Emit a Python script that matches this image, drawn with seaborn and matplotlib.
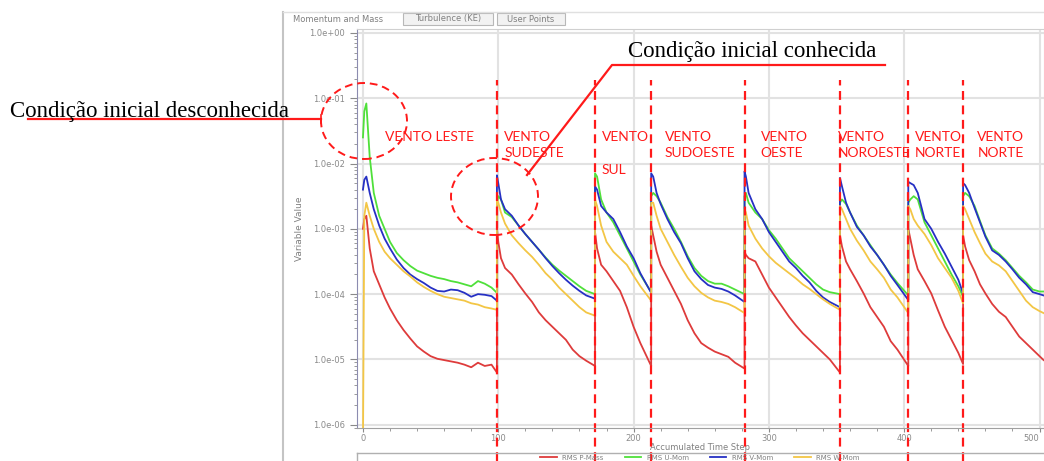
import numpy as np
import pandas as pd
import matplotlib.pyplot as plt
import seaborn as sns
from matplotlib.patches import Ellipse, Rectangle
from matplotlib.lines import Line2D
from matplotlib.ticker import FuncFormatter, LogLocator, MultipleLocator, NullFormatter

# --- DADOS: RESIDUOS RMS (log10) POR PASSO DE TEMPO ---
steps = [
    0, 1, 2.5, 5, 8, 12, 16, 20, 25, 30, 35, 40, 45, 50, 55, 60, 65, 70, 75, 80, 85, 90, 95, 99,
    99, 100, 102, 105, 110, 115, 120, 125, 130, 135, 140, 145, 150, 155, 160, 165, 171.5,
    171.5, 173, 176, 180, 185, 190, 195, 200, 205, 213,
    213, 214.5, 217, 220, 225, 230, 235, 240, 245, 250, 255, 260, 265, 270, 275, 282,
    282, 283, 285, 290, 295, 300, 305, 310, 315, 320, 325, 330, 335, 340, 345, 352.5,
    352.5, 354, 357, 360, 365, 370, 375, 380, 385, 390, 395, 403,
    403, 404.5, 407, 410, 415, 420, 425, 430, 435, 440, 443.5,
    443.5, 445, 448, 452, 456, 460, 465, 470, 475, 480, 485, 490, 495, 500, 503,
]

p_mass_log = [
    -3.0, -2.85, -2.8, -3.3, -3.65, -3.85, -4.05, -4.22, -4.4, -4.55, -4.68, -4.8, -4.88, -4.95, -4.99, -5.01, -5.03, -5.05, -5.08, -5.12, -5.05, -5.1, -5.08, -5.2,
    -3.0, -3.2, -3.45, -3.6, -3.7, -3.85, -3.99, -4.12, -4.28, -4.4, -4.5, -4.6, -4.7, -4.85, -4.95, -5.02, -5.1,
    -3.05, -3.3, -3.55, -3.65, -3.8, -3.95, -4.2, -4.5, -4.75, -5.1,
    -2.95, -3.1, -3.35, -3.55, -3.75, -3.95, -4.15, -4.4, -4.6, -4.75, -4.82, -4.88, -4.92, -4.96, -5.05, -5.14,
    -3.35, -3.4, -3.45, -3.5, -3.7, -3.9, -4.05, -4.2, -4.35, -4.48, -4.6, -4.7, -4.8, -4.9, -5.0, -5.2,
    -3.1, -3.27, -3.5, -3.62, -3.8, -3.99, -4.2, -4.35, -4.5, -4.72, -4.85, -5.1,
    -3.0, -3.15, -3.4, -3.62, -3.8, -3.99, -4.25, -4.5, -4.7, -4.9, -5.07,
    -3.1, -3.27, -3.48, -3.65, -3.85, -3.99, -4.15, -4.27, -4.35, -4.5, -4.65, -4.75, -4.85, -4.95, -5.01,
]

u_mom_log = [
    -1.6, -1.2, -1.08, -1.9, -2.45, -2.8, -3.0, -3.2, -3.37, -3.48, -3.57, -3.64, -3.68, -3.72, -3.75, -3.77, -3.8, -3.82, -3.85, -3.88, -3.8, -3.84, -3.9, -3.98,
    -2.6, -2.5, -2.55, -2.75, -2.82, -2.95, -3.08, -3.2, -3.32, -3.44, -3.55, -3.64, -3.72, -3.8, -3.88, -3.95, -4.0,
    -2.15, -2.2, -2.55, -2.75, -2.9, -3.1, -3.3, -3.5, -3.7, -3.97,
    -2.5, -2.45, -2.5, -2.6, -2.82, -3.0, -3.2, -3.42, -3.6, -3.72, -3.8, -3.84, -3.84, -3.88, -3.93, -4.0,
    -2.5, -2.45, -2.6, -2.75, -2.85, -3.02, -3.15, -3.3, -3.45, -3.55, -3.65, -3.75, -3.85, -3.93, -3.97, -4.0,
    -2.6, -2.55, -2.62, -2.75, -2.95, -3.1, -3.25, -3.4, -3.55, -3.7, -3.83, -4.02,
    -2.6, -2.55, -2.5, -2.55, -2.9, -3.1, -3.3, -3.5, -3.7, -3.88, -4.04,
    -2.5, -2.45, -2.5, -2.65, -2.88, -3.1, -3.3, -3.38, -3.48, -3.6, -3.72, -3.82, -3.93, -3.96, -3.96,
]

v_mom_log = [
    -2.4, -2.25, -2.2, -2.45, -2.7, -2.95, -3.15, -3.3, -3.47, -3.6, -3.7, -3.77, -3.83, -3.9, -3.95, -3.96, -3.93, -3.94, -3.98, -4.04, -4.0, -4.01, -4.03, -4.1,
    -2.18, -2.3, -2.55, -2.7, -2.8, -2.95, -3.08, -3.2, -3.32, -3.45, -3.57, -3.68, -3.78, -3.87, -3.95, -4.02, -4.07,
    -2.35, -2.4, -2.65, -2.75, -2.85, -3.05, -3.27, -3.45, -3.68, -3.98,
    -2.15, -2.2, -2.45, -2.62, -2.85, -3.05, -3.22, -3.45, -3.65, -3.77, -3.86, -3.9, -3.92, -3.96, -4.02, -4.12,
    -2.12, -2.2, -2.45, -2.7, -2.85, -3.05, -3.2, -3.35, -3.5, -3.6, -3.72, -3.82, -3.95, -4.05, -4.12, -4.2,
    -2.22, -2.35, -2.6, -2.75, -2.97, -3.1, -3.27, -3.4, -3.55, -3.72, -3.86, -4.09,
    -2.28, -2.3, -2.33, -2.45, -2.85, -3.0, -3.2, -3.38, -3.58, -3.78, -3.99,
    -2.3, -2.33, -2.45, -2.68, -2.9, -3.12, -3.33, -3.4, -3.5, -3.62, -3.75, -3.85, -3.97, -4.0, -4.02,
]

w_mom_log = [
    -6.3, -2.8, -2.6, -2.8, -3.0, -3.2, -3.35, -3.45, -3.55, -3.65, -3.73, -3.82, -3.89, -3.95, -4.0, -4.04, -4.06, -4.08, -4.1, -4.14, -4.16, -4.2, -4.22, -4.24,
    -2.55, -2.6, -2.75, -2.92, -3.1, -3.22, -3.33, -3.43, -3.55, -3.68, -3.78, -3.9, -4.0, -4.1, -4.2, -4.28, -4.33,
    -2.55, -2.65, -2.95, -3.2, -3.35, -3.45, -3.55, -3.72, -3.88, -4.1,
    -2.6, -2.6, -2.8, -3.0, -3.2, -3.4, -3.58, -3.75, -3.88, -3.98, -4.05, -4.1, -4.12, -4.15, -4.2, -4.29,
    -2.7, -2.75, -2.95, -3.15, -3.3, -3.42, -3.52, -3.6, -3.68, -3.76, -3.85, -3.92, -4.0, -4.08, -4.15, -4.24,
    -2.65, -2.7, -2.85, -3.0, -3.18, -3.33, -3.5, -3.62, -3.75, -3.93, -4.05, -4.29,
    -2.65, -2.7, -2.85, -2.95, -3.08, -3.25, -3.45, -3.6, -3.75, -3.95, -4.14,
    -2.65, -2.7, -2.85, -3.05, -3.22, -3.38, -3.5, -3.56, -3.65, -3.8, -3.95, -4.1, -4.2, -4.26, -4.29,
]

series_names = ["RMS P-Mass", "RMS U-Mom", "RMS V-Mom", "RMS W-Mom"]
series_colors = ["#de3b3b", "#4fe03a", "#2630c4", "#f3c645"]

# mudancas de direcao do vento (passo de tempo) e rotulos
wind_change_steps = [99, 171.5, 213, 282, 352.5, 403, 443.5]
wind_label_steps = [16, 104.5, 176.5, 223, 294, 351, 408, 454]
wind_labels = ["VENTO LESTE", "VENTO\nSUDESTE", "VENTO\n\nSUL", "VENTO\nSUDOESTE",
               "VENTO\nOESTE", "VENTO\nNOROESTE", "VENTO\nNORTE", "VENTO\nNORTE"]

y_ticks = [1e-6, 1e-5, 1e-4, 1e-3, 1e-2, 1e-1, 1e0]
x_ticks = [0, 100, 200, 300, 400, 500]

# --- DATAFRAME ---
df = pd.DataFrame({
    "step": steps * 4,
    "log_value": p_mass_log + u_mom_log + v_mom_log + w_mom_log,
    "serie": np.repeat(series_names, len(steps)),
})
df["value"] = 10 ** df["log_value"]

W, H = 1044, 461


def fx(px):
    return px / W


def fy(py):
    return 1 - py / H


fig = plt.figure(figsize=(W / 100, H / 100), dpi=100)
ax = fig.add_axes([fx(357), fy(428), 1 - fx(357), (428 - 29) / H])

sns.lineplot(data=df, x="step", y="value", hue="serie", hue_order=series_names,
             palette=series_colors, estimator=None, sort=False, linewidth=1.3,
             ax=ax, legend=False)

ax.set_yscale("log")
ax.set_ylim(10 ** -6.05, 10 ** 0.06)
ax.set_xlim(-4.4, 503.3)

# --- EIXOS ---
tick_gray = "#8a8a8a"
ax.set_yticks(y_ticks)
ax.yaxis.set_minor_locator(LogLocator(base=10, subs=np.arange(2, 10), numticks=20))
ax.yaxis.set_major_formatter(FuncFormatter(lambda v, p: f"{v:.1e}"))
ax.yaxis.set_minor_formatter(NullFormatter())
ax.set_xticks(x_ticks)
ax.xaxis.set_minor_locator(MultipleLocator(20))
ax.tick_params(which="both", colors=tick_gray, labelsize=6, direction="out")
ax.tick_params(axis="y", which="major", length=5)
ax.tick_params(axis="y", which="minor", length=2.5)
ax.tick_params(axis="x", which="major", length=3, pad=1)
ax.tick_params(axis="x", which="minor", length=2)
ax.get_xticklabels()[-1].set_horizontalalignment("right")  # ultimo rotulo na borda
ax.grid(True, which="major", color="#e2e2e2", linewidth=1.5)
ax.set_axisbelow(True)
for side, sp in ax.spines.items():
    sp.set_color("#d0d0d0")
ax.spines["left"].set_color("#8c8cb0")
ax.spines["bottom"].set_color("#a0a0a0")
ax.set_xlabel("Accumulated Time Step", fontsize=6, color="#808080", labelpad=0)
ax.set_ylabel("Variable Value", fontsize=6.5, color="#808080", labelpad=4)

# --- LEGENDA ---
handles = [Line2D([0], [0], color=c, lw=1.3) for c in series_colors]
fig.legend(handles, series_names, loc="center", bbox_to_anchor=(fx(700), fy(457.5)),
           ncol=4, frameon=False, fontsize=5, labelcolor="#808080",
           handlelength=2.4, columnspacing=3, borderpad=0, handleheight=0.5)
fig.add_artist(Line2D([fx(357), 1], [fy(453), fy(453)], color="#b0b0b0", lw=1))
fig.add_artist(Line2D([fx(357), fx(357)], [fy(453), 0], color="#b0b0b0", lw=1))

# --- ABAS DA JANELA ---
fig.add_artist(Line2D([fx(283), fx(283)], [fy(12), 0], color="#c4c4c4", lw=1.5))
fig.add_artist(Line2D([fx(283), 1], [fy(12), fy(12)], color="#e0e0e0", lw=1))
fig.text(fx(293), fy(19), "Momentum and Mass", fontsize=6, color="#808080", va="center")
for x0, x1, tab in [(403, 493, "Turbulence (KE)"), (497, 565, "User Points")]:
    fig.add_artist(Rectangle((fx(x0), fy(25)), (x1 - x0) / W, 12 / H,
                             facecolor="#f2f2f2", edgecolor="#b8b8b8", lw=0.8))
    fig.text(fx((x0 + x1) / 2), fy(19), tab, fontsize=6, color="#808080",
             ha="center", va="center")

# --- ANOTACOES: MUDANCAS DE VENTO ---
red = "#ff1a1a"
ax.vlines(wind_change_steps, -0.083, 0.872, transform=ax.get_xaxis_transform(),
          colors=red, linestyles=(0, (4, 2.5)), linewidth=1.6, clip_on=False)
for xs, lab in zip(wind_label_steps, wind_labels):
    ax.text(xs, 10 ** -1.5, lab, color=red, fontsize=10, family="Lato",
            va="top", ha="left", linespacing=1.45)

# --- CONDICAO INICIAL ---
for cx, cy, w, h in [(364, 121, 86, 76), (494.5, 196.5, 87, 77)]:
    fig.add_artist(Ellipse((fx(cx), fy(cy)), w / W, h / H, fill=False, edgecolor=red,
                           linestyle=(0, (4, 2.5)), lw=1.4))

fig.add_artist(Line2D([fx(28), fx(321)], [fy(119), fy(119)], color=red, lw=1.6))
fig.add_artist(Line2D([fx(321), fx(321)], [fy(115), fy(123)], color=red, lw=1.2))
fig.add_artist(Line2D([fx(527), fx(612), fx(885)], [fy(175), fy(65), fy(65)],
                      color=red, lw=1.6))
fig.text(fx(10), fy(117), "Condição inicial desconhecida", fontsize=16.5,
         family="Liberation Serif", color="black", va="baseline")
fig.text(fx(628), fy(56.5), "Condição inicial conhecida", fontsize=16.5,
         family="Liberation Serif", color="black", va="baseline")

fig.savefig("out.png", dpi=100)
